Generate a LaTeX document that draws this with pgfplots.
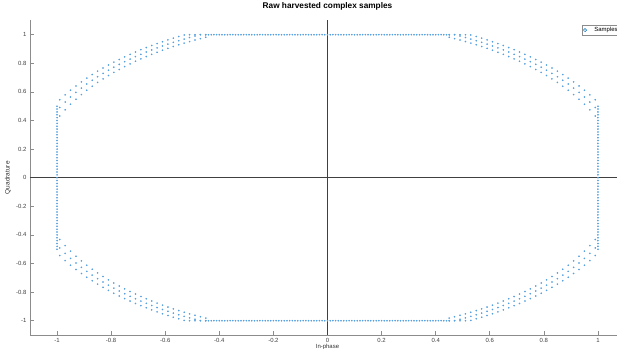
\documentclass[border=0pt]{standalone}
\usepackage{pgfplots}
\pgfplotsset{compat=1.18}
\usepackage{pgfplotstable}
\usepackage{fontspec}
\setmainfont{Liberation Sans}
\definecolor{dotblue}{RGB}{85,160,222}
\definecolor{mblue}{RGB}{0,114,189}
\definecolor{axgray}{RGB}{140,140,140}

% quadrant arc samples (x>0, y>0), three amplitude rows per column
\pgfplotstableread[row sep=\\]{
x y\\
0.45 0.9818\\ 0.45 1\\ 0.45 1\\
0.47 0.9724\\ 0.47 1\\ 0.47 1\\
0.49 0.9624\\ 0.49 0.9904\\ 0.49 1\\
0.51 0.9520\\ 0.51 0.9803\\ 0.51 1\\
0.53 0.9410\\ 0.53 0.9696\\ 0.53 0.9980\\
0.55 0.9295\\ 0.55 0.9584\\ 0.55 0.9871\\
0.57 0.9173\\ 0.57 0.9466\\ 0.57 0.9757\\
0.59 0.9046\\ 0.59 0.9343\\ 0.59 0.9638\\
0.61 0.8912\\ 0.61 0.9214\\ 0.61 0.9512\\
0.63 0.8772\\ 0.63 0.9078\\ 0.63 0.9381\\
0.65 0.8625\\ 0.65 0.8936\\ 0.65 0.9243\\
0.67 0.8470\\ 0.67 0.8787\\ 0.67 0.9099\\
0.69 0.8308\\ 0.69 0.8631\\ 0.69 0.8949\\
0.71 0.8138\\ 0.71 0.8467\\ 0.71 0.8791\\
0.73 0.7959\\ 0.73 0.8295\\ 0.73 0.8626\\
0.75 0.7771\\ 0.75 0.8115\\ 0.75 0.8452\\
0.77 0.7573\\ 0.77 0.7925\\ 0.77 0.8270\\
0.79 0.7364\\ 0.79 0.7726\\ 0.79 0.8080\\
0.81 0.7144\\ 0.81 0.7516\\ 0.81 0.7879\\
0.83 0.6910\\ 0.83 0.7295\\ 0.83 0.7668\\
0.85 0.6663\\ 0.85 0.7060\\ 0.85 0.7446\\
0.87 0.6399\\ 0.87 0.6812\\ 0.87 0.7211\\
0.89 0.6118\\ 0.89 0.6549\\ 0.89 0.6963\\
0.91 0.5816\\ 0.91 0.6268\\ 0.91 0.6699\\
0.93 0.5491\\ 0.93 0.5967\\ 0.93 0.6419\\
0.95 0.5137\\ 0.95 0.5644\\ 0.95 0.6119\\
0.97 0.4749\\ 0.97 0.5292\\ 0.97 0.5797\\
0.99 0.4316\\ 0.99 0.4908\\ 0.99 0.5448\\
}\arcdata

% clipped flat run (y = 1)
\pgfplotstableread[row sep=\\]{
x y\\
-0.44 1\\ -0.43 1\\ -0.42 1\\ -0.41 1\\ -0.40 1\\ -0.39 1\\ -0.38 1\\ -0.37 1\\ -0.36 1\\ -0.35 1\\
-0.34 1\\ -0.33 1\\ -0.32 1\\ -0.31 1\\ -0.30 1\\ -0.29 1\\ -0.28 1\\ -0.27 1\\ -0.26 1\\ -0.25 1\\
-0.24 1\\ -0.23 1\\ -0.22 1\\ -0.21 1\\ -0.20 1\\ -0.19 1\\ -0.18 1\\ -0.17 1\\ -0.16 1\\ -0.15 1\\
-0.14 1\\ -0.13 1\\ -0.12 1\\ -0.11 1\\ -0.10 1\\ -0.09 1\\ -0.08 1\\ -0.07 1\\ -0.06 1\\ -0.05 1\\
-0.04 1\\ -0.03 1\\ -0.02 1\\ -0.01 1\\ 0.00 1\\ 0.01 1\\ 0.02 1\\ 0.03 1\\ 0.04 1\\ 0.05 1\\
0.06 1\\ 0.07 1\\ 0.08 1\\ 0.09 1\\ 0.10 1\\ 0.11 1\\ 0.12 1\\ 0.13 1\\ 0.14 1\\ 0.15 1\\
0.16 1\\ 0.17 1\\ 0.18 1\\ 0.19 1\\ 0.20 1\\ 0.21 1\\ 0.22 1\\ 0.23 1\\ 0.24 1\\ 0.25 1\\
0.26 1\\ 0.27 1\\ 0.28 1\\ 0.29 1\\ 0.30 1\\ 0.31 1\\ 0.32 1\\ 0.33 1\\ 0.34 1\\ 0.35 1\\
0.36 1\\ 0.37 1\\ 0.38 1\\ 0.39 1\\ 0.40 1\\ 0.41 1\\ 0.42 1\\ 0.43 1\\ 0.44 1\\
}\flatdata

% clipped vertical run (x = 1)
\pgfplotstableread[row sep=\\]{
x y\\
1 -0.50\\ 1 -0.48\\ 1 -0.46\\ 1 -0.44\\ 1 -0.42\\ 1 -0.40\\ 1 -0.38\\ 1 -0.36\\ 1 -0.34\\ 1 -0.32\\
1 -0.30\\ 1 -0.28\\ 1 -0.26\\ 1 -0.24\\ 1 -0.22\\ 1 -0.20\\ 1 -0.18\\ 1 -0.16\\ 1 -0.14\\ 1 -0.12\\
1 -0.10\\ 1 -0.08\\ 1 -0.06\\ 1 -0.04\\ 1 -0.02\\ 1 0.00\\ 1 0.02\\ 1 0.04\\ 1 0.06\\ 1 0.08\\
1 0.10\\ 1 0.12\\ 1 0.14\\ 1 0.16\\ 1 0.18\\ 1 0.20\\ 1 0.22\\ 1 0.24\\ 1 0.26\\ 1 0.28\\
1 0.30\\ 1 0.32\\ 1 0.34\\ 1 0.36\\ 1 0.38\\ 1 0.40\\ 1 0.42\\ 1 0.44\\ 1 0.46\\ 1 0.48\\
1 0.50\\
}\vertdata

\pgfplotsset{samp/.style={only marks, color=dotblue, mark=*, mark size=0.6bp, mark options={draw=none, fill=dotblue}}}

\begin{document}
\begin{tikzpicture}
\begin{axis}[
  at={(30bp,14bp)}, anchor=south west,
  scale only axis, width=595bp, height=314.6bp,
  xmin=-1.1, xmax=1.1, ymin=-1.1, ymax=1.1,
  axis x line*=bottom, axis y line*=left,
  axis line style={axgray, line width=0.6bp},
  tick align=inside, major tick length=4bp,
  tick style={axgray, line width=0.6bp},
  xtick={-1,-0.8,-0.6,-0.4,-0.2,0,0.2,0.4,0.6,0.8,1},
  xticklabels={-1,-0.8,-0.6,-0.4,-0.2,0,0.2,0.4,0.6,0.8,1},
  ytick={-1,-0.8,-0.6,-0.4,-0.2,0,0.2,0.4,0.6,0.8,1},
  yticklabels={-1,-0.8,-0.6,-0.4,-0.2,0,0.2,0.4,0.6,0.8,1},
  ticklabel style={font=\fontsize{6}{7}\selectfont, text=black!75},
  title={Raw harvested complex samples},
  title style={font=\bfseries\fontsize{8.3}{10}\selectfont, at={(axis description cs:0.5,1.027)}, anchor=center},
  xlabel={In-phase},
  xlabel style={font=\fontsize{6}{7}\selectfont, text=black!80, at={(axis description cs:0.5,-0.0366)}, anchor=center},
  ylabel={Quadrature},
  ylabel style={font=\fontsize{6.5}{8}\selectfont, text=black!80, at={(axis description cs:-0.037,0.5)}, anchor=center},
  legend style={at={(0.928,0.985)}, anchor=north west, draw=axgray, line width=0.5bp,
    font=\fontsize{6}{7}\selectfont, inner sep=0.8bp, nodes={inner sep=1bp}},
  legend image code/.code={\draw[mblue, line width=0.5bp] (10bp,0) circle (1.6bp); \path (18bp,0);},
  legend cell align=left,
]
\addplot[samp] table[x=x,y=y] {\arcdata};
\addlegendentry{Samples}
\addplot[samp, forget plot] table[x expr=-\thisrow{x}, y=y] {\arcdata};
\addplot[samp, forget plot] table[x=x, y expr=-\thisrow{y}] {\arcdata};
\addplot[samp, forget plot] table[x expr=-\thisrow{x}, y expr=-\thisrow{y}] {\arcdata};
\addplot[samp, forget plot] table[x=x,y=y] {\flatdata};
\addplot[samp, forget plot] table[x=x, y expr=-\thisrow{y}] {\flatdata};
\addplot[samp, forget plot] table[x=x,y=y] {\vertdata};
\addplot[samp, forget plot] table[x expr=-\thisrow{x}, y=y] {\vertdata};
\addplot[forget plot, black!75, line width=0.6bp] coordinates {(0,-1.1) (0,1.1)};
\addplot[forget plot, black!75, line width=0.6bp] coordinates {(-1.1,0) (1.1,0)};
\end{axis}
\pgfresetboundingbox
\path (0,0) rectangle (617bp,349bp);
\end{tikzpicture}
\end{document}
